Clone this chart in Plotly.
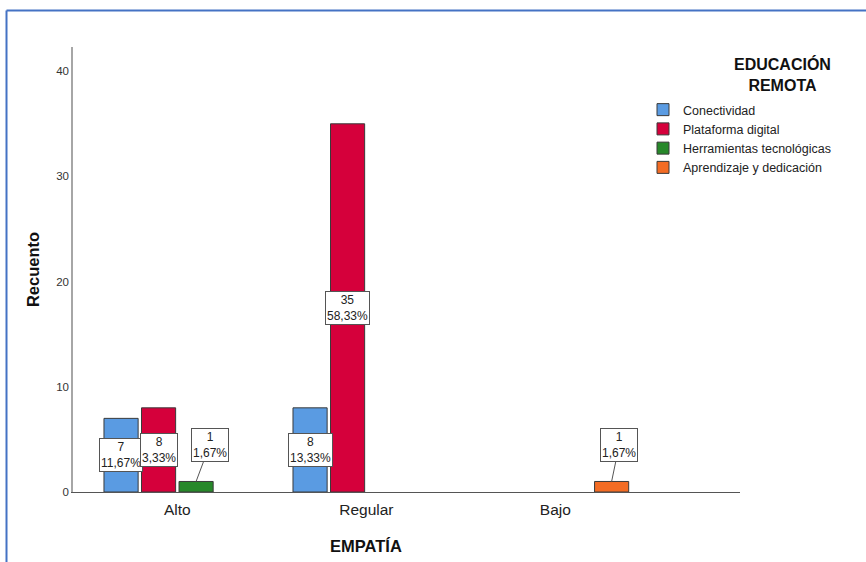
import plotly.graph_objects as go

# ---- data ----
categories = ["Alto", "Regular", "Bajo"]
series_names = ["Conectividad", "Plataforma digital", "Herramientas tecnológicas", "Aprendizaje y dedicación"]
conectividad = [7, 8, None]
plataforma = [8, 35, None]
herramientas = [1, None, None]
aprendizaje = [None, None, 1]
pct_conectividad = ["11,67%", "13,33%", None]
pct_plataforma = ["3,33%", "58,33%", None]
pct_herramientas = ["1,67%", None, None]
pct_aprendizaje = [None, None, "1,67%"]
y_ticks = [0, 10, 20, 30, 40]

values = [conectividad, plataforma, herramientas, aprendizaje]
pcts = [pct_conectividad, pct_plataforma, pct_herramientas, pct_aprendizaje]
colors = ["#5a9be2", "#d5003b", "#27882a", "#f36c24"]

FONT = "Liberation Sans, Arial, sans-serif"
W, H = 866, 562
L, R, T, B = 73, 126, 47, 70
BARGAP = 0.206
BARGROUPGAP = 0.09

fig = go.Figure()
for name, vals, col in zip(series_names, values, colors):
    fig.add_trace(go.Bar(
        x=categories, y=vals, name=name,
        marker=dict(color=col, line=dict(color="#3a3a3a", width=1)),
    ))

# value labels (boxes)
slot = (1 - BARGAP) / len(series_names)
annotations = []
for i, (vals, pl) in enumerate(zip(values, pcts)):
    off = (i - (len(series_names) - 1) / 2) * slot
    for ci, (v, p) in enumerate(zip(vals, pl)):
        if v is None:
            continue
        txt = f"{v}<br>{p}"
        common = dict(
            xref="x", yref="y", text=txt,
            font=dict(family=FONT, size=12, color="#222"),
            bgcolor="white", bordercolor="#555", borderwidth=1, borderpad=1,
        )
        if v >= 3:
            annotations.append(dict(x=ci + off, y=v / 2, showarrow=False, **common))
        else:
            annotations.append(dict(
                x=ci + off, y=v, showarrow=True, arrowhead=0, arrowwidth=1,
                arrowcolor="#555", ax=13.5 if ci == 0 else 7.5, ay=-36, standoff=0, **common))

px = lambda v: (v - L) / (W - L - R)
py = lambda v: ((H - B) - v) / (H - T - B)

# axis title EMPATÍA and legend title
annotations.append(dict(xref="paper", yref="paper", x=px(366), y=py(546),
                        text="<b>EMPATÍA</b>", showarrow=False,
                        font=dict(family=FONT, size=16.5, color="#111"), xanchor="center", yanchor="middle"))
annotations.append(dict(xref="paper", yref="paper", x=px(782), y=py(74),
                        text="<b>EDUCACIÓN<br>REMOTA</b>", showarrow=False,
                        font=dict(family=FONT, size=16, color="#111"), xanchor="center", yanchor="middle"))

# blue frame around the page (left and top edges visible)
shapes = [
    dict(type="line", xref="paper", yref="paper", x0=px(6.5), x1=px(6.5), y0=py(10.5), y1=py(575),
         line=dict(color="#4472c4", width=2)),
    dict(type="line", xref="paper", yref="paper", x0=px(6.5), x1=px(880), y0=py(10.5), y1=py(10.5),
         line=dict(color="#4472c4", width=2)),
]

fig.update_layout(
    width=W, height=H,
    margin=dict(l=L, r=R, t=T, b=B),
    paper_bgcolor="white", plot_bgcolor="white",
    barmode="group", bargap=BARGAP, bargroupgap=BARGROUPGAP,
    font=dict(family=FONT, color="#222"),
    showlegend=True,
    legend=dict(x=px(643), y=py(95), xanchor="left", yanchor="top",
                font=dict(family=FONT, size=12.5, color="#222"),
                itemwidth=30, tracegroupgap=0, bgcolor="rgba(0,0,0,0)"),
    annotations=annotations,
    shapes=shapes,
)
fig.update_xaxes(
    type="category", range=[-0.552, 2.977],
    showline=True, linecolor="#555", linewidth=1, ticks="", showgrid=False, zeroline=False,
    tickfont=dict(family=FONT, size=15.5, color="#222"), ticklabelstandoff=3,
)
fig.update_yaxes(
    range=[0, 42.3], tickvals=y_ticks,
    showline=True, linecolor="#a6a6a6", linewidth=1.5, ticks="", showgrid=False, zeroline=False,
    tickfont=dict(family=FONT, size=11.5, color="#333"),
    title=dict(text="<b>Recuento</b>", font=dict(family=FONT, size=16.5, color="#111"), standoff=12),
)

fig.write_html("out.html", config={"displayModeBar": False},
               post_script="document.body.style.margin='0';")
